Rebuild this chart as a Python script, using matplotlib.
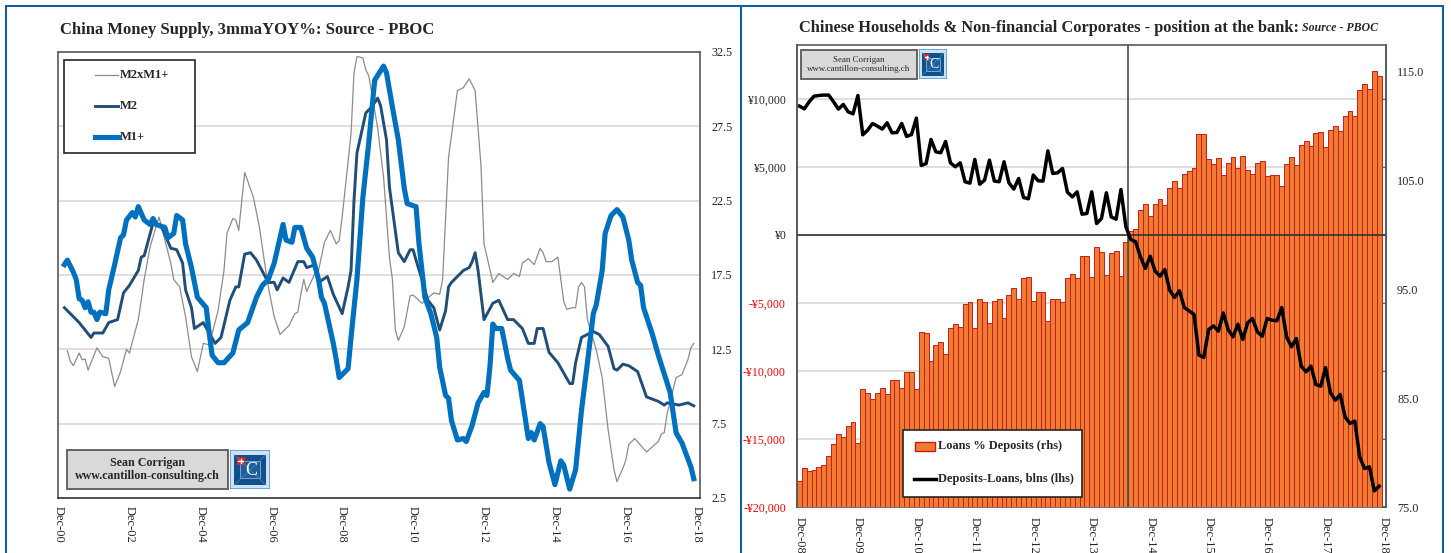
import numpy as np
import matplotlib
matplotlib.use("Agg")
import matplotlib.pyplot as plt
from matplotlib.lines import Line2D
from matplotlib.patches import Rectangle
from matplotlib.transforms import Affine2D

# money supply growth, months counted from Dec-00
m1_months = [2,3,5,6,7,8,9,10,11,12,13,14,16,17,19,21,22,23,25,26,27,29,31,32,33,36,37,39,40,42,43,45,47,50,51,52,54,56,59,61,64,67,69,71,73,76,77,79,80,82,84,86,88,89,90,93,94,95,98,99,101,103,105,107,110,111,113,115,117,118,121,122,123,124,126,128,129,131,132,133,135,137,138,140,142,144,145,146,147,148,150,152,153,156,159,160,161,163,164,166,168,170,171,173,175,177,179,181,182,184,185,187,189,191,193,194,196,197,198,201,203,207,209,211,214,215]
m1_values = [18.2,18.5,17.7,17.2,15.9,15.8,15.3,15.7,15.0,15.0,14.5,15.0,14.9,16.5,18.2,20.0,20.2,21.2,21.7,21.4,22.1,21.2,20.9,21.3,20.9,20.7,20.0,20.3,21.5,21.2,19.6,18.0,16.0,15.3,13.6,12.1,11.6,11.6,12.25,13.8,14.3,16.0,16.8,17.2,18.3,20.9,19.85,19.7,20.7,20.7,19.3,18.7,17.2,16.0,15.6,12.9,11.8,10.6,11.2,13.3,17.2,22.7,26.4,30.6,31.55,31.1,28.8,26.6,23.35,22.3,22.1,19.6,17.8,16.0,14.9,13.3,11.3,9.4,9.2,7.7,6.4,6.5,6.3,7.4,8.9,9.6,9.4,11.3,14.2,13.9,13.9,11.9,11.1,10.4,6.5,6.9,6.4,7.5,7.3,4.9,3.4,5.0,4.7,3.1,4.4,8.4,11.6,14.9,15.5,17.8,20.3,21.5,21.9,21.4,19.85,18.5,17.0,16.8,15.3,13.5,12.1,9.6,6.9,6.2,4.6,3.8]

m2_months = [2,5,7,11,12,15,17,20,22,24,27,28,29,32,35,38,40,42,43,45,46,49,51,53,55,58,60,61,63,65,67,71,73,74,76,78,81,83,84,87,88,91,93,96,98,99,100,101,104,106,108,109,111,112,115,117,119,120,121,123,125,127,129,131,132,133,135,137,139,140,141,142,144,147,149,152,154,157,159,161,162,164,166,169,173,174,175,177,181,183,186,188,189,191,193,196,199,203,205,206,210,213,215]
m2_values = [15.3,14.7,14.3,13.3,13.6,13.6,14.3,14.5,16.3,16.8,17.8,18.7,18.8,21.0,20.7,19.3,19.2,18.3,16.5,15.3,13.9,14.3,13.6,12.9,13.3,15.8,16.7,16.7,18.9,19.0,18.5,17.0,17.0,16.5,17.3,17.0,18.4,18.4,18.0,18.2,17.0,17.4,16.2,14.9,16.7,17.8,22.5,25.7,28.4,28.8,29.4,28.9,26.6,23.4,19.0,18.4,19.2,19.2,18.5,17.2,15.8,15.3,13.8,15.1,16.7,17.0,17.4,17.8,18.0,18.4,19.0,17.8,14.5,15.6,15.8,14.5,14.5,13.9,12.9,12.9,13.9,13.9,12.3,11.6,10.2,10.2,11.6,13.3,13.7,13.5,12.7,11.2,11.1,11.5,11.4,11.0,9.3,9.0,8.75,8.9,8.75,8.9,8.7]

m2xm1_months = [3,4,5,7,8,9,10,13,15,17,19,21,23,24,27,28,29,31,34,36,38,39,41,43,45,47,49,51,54,56,57,59,60,61,63,66,68,70,71,73,75,78,80,81,82,83,84,87,88,90,92,94,95,96,99,100,101,103,104,105,108,110,112,113,114,115,117,119,120,123,127,129,130,132,135,137,139,141,143,144,147,149,152,154,156,157,159,161,163,164,165,167,169,170,171,172,174,175,176,177,178,179,182,184,186,188,189,191,192,193,195,199,203,204,205,206,209,211,213,214,215]
m2xm1_values = [12.4,11.7,11.4,12.25,11.8,11.85,11.1,12.6,12.0,11.9,10.0,11.0,12.5,12.25,14.5,15.8,17.2,19.4,21.4,19.85,18.3,17.2,16.7,14.7,12.0,11.0,12.9,12.8,15.1,17.8,20.3,21.3,21.2,20.5,24.4,22.7,20.7,18.0,16.7,14.7,13.5,14.1,14.9,15.0,16.2,17.2,16.4,17.7,17.8,19.7,20.5,19.6,19.8,21.4,27.0,31.1,32.2,32.1,31.3,30.9,27.4,24.1,18.7,17.2,13.8,13.1,14.0,16.1,16.15,15.6,16.3,16.2,17.2,25.4,29.9,30.1,30.7,29.9,24.8,19.6,17.0,17.6,17.2,17.6,17.4,18.3,18.6,18.2,19.3,19.0,18.4,18.4,18.7,17.2,15.7,15.2,15.3,15.3,16.7,17.0,16.7,14.5,12.45,10.6,7.1,4.4,3.6,4.5,5.05,6.1,6.5,5.6,6.3,6.8,6.9,8.2,10.6,10.8,11.8,12.6,12.9]

money_ticks = [0,24,48,72,96,120,144,168,192,216]
money_labels = ["Dec-00","Dec-02","Dec-04","Dec-06","Dec-08","Dec-10","Dec-12","Dec-14","Dec-16","Dec-18"]
money_levels = [2.5,7.5,12.5,17.5,22.5,27.5,32.5]

# bank position, one value a month from Dec-08
loans_pct = [77.4,78.6,78.3,78.4,78.7,78.9,79.7,80.8,81.7,81.4,82.4,82.8,80.9,85.8,85.5,84.9,85.5,85.9,85.4,86.7,
             86.7,85.9,87.4,87.4,85.8,91.05,91.0,88.4,89.9,90.1,89.0,91.45,91.8,91.5,93.6,93.8,91.45,94.1,93.8,91.85,
             93.9,94.1,92.3,94.45,95.1,94.1,96.0,96.1,93.9,94.7,94.7,92.1,94.1,94.1,93.8,96.0,96.35,96.0,98.0,98.0,
             96.1,98.9,98.4,96.3,98.3,98.5,96.2,99.3,100.35,100.5,102.25,102.8,101.7,102.8,103.3,102.7,104.3,104.9,104.3,105.6,
             105.8,106.1,109.2,109.2,106.9,106.5,107.0,105.5,106.6,107.1,106.1,107.2,105.9,105.55,106.6,106.8,105.4,105.5,105.5,104.5,
             106.5,107.1,106.4,108.2,108.6,108.1,109.3,109.4,108.0,109.6,110.0,109.5,110.9,111.3,110.9,113.3,113.8,113.4,115.0,114.6]
deposits_less_loans = [9460,9260,9780,10190,10240,10270,10270,9780,9240,9580,9040,8890,10240,7350,7690,8180,7990,7770,8230,7500,
                       7520,8180,7230,7370,8580,5100,5240,7010,6100,6030,6860,5290,5000,5290,3900,3800,5540,3720,4020,5490,
                       3950,3900,5370,3820,3360,4140,2740,2650,4390,3970,3950,6170,4510,4560,4880,3140,2790,3160,1520,1570,
                       3160,830,1200,3090,1320,1150,3330,590,-340,-510,-1620,-2470,-1570,-2650,-3040,-2550,-4070,-4600,-4110,-5340,
                       -5590,-5850,-8840,-9010,-6960,-6690,-7080,-5740,-6960,-7500,-6570,-7690,-6470,-6150,-7130,-7450,-6150,-6270,-6320,-5340,
                       -7500,-8230,-7620,-9650,-10070,-9650,-11000,-11120,-9750,-11610,-12150,-11730,-13380,-13860,-13690,-16320,-17170,-17050,-18820,-18470]
bank_ticks = [0,12,24,36,48,60,72,84,96,108,120]
bank_labels = ["Dec-08","Dec-09","Dec-10","Dec-11","Dec-12","Dec-13","Dec-14","Dec-15","Dec-16","Dec-17","Dec-18"]
yuan_levels = [-20000,-15000,-10000,-5000,0,5000,10000]
ratio_levels = [75,85,95,105,115]

W, H = 1451, 553
SERIF = "Liberation Serif"
INK = "#262626"
FRAME = "#0B5FA5"
SPINE = "#595959"
GRID = "#D9D9D9"

plt.rcParams["font.family"] = SERIF
plt.rcParams["lines.solid_joinstyle"] = "round"
fig = plt.figure(figsize=(W / 100, H / 100), dpi=100)
# pixel coordinates with the origin at the top left, for the decoration
px = Affine2D().scale(1, -1).translate(0, H)


def axes_at(left, top, right, bottom):
    return fig.add_axes([left / W, 1 - bottom / H, (right - left) / W, (bottom - top) / H])


def fig_text(x, y, s, **kw):
    kw.setdefault("va", "center")
    kw.setdefault("color", INK)
    return fig.text(x, y, s, transform=px, **kw)


def fig_line(xs, ys, **kw):
    fig.add_artist(Line2D(xs, ys, transform=px, **kw))


def fig_box(x0, y0, x1, y1, **kw):
    fig.add_artist(Rectangle((x0, y0), x1 - x0, y1 - y0, transform=px, **kw))


def credit_box(x0, y0, x1, y1, size, weight):
    fig_box(x0, y0, x1, y1, facecolor="#D9D9D9", edgecolor=SPINE, lw=1.3, zorder=5)
    xc = (x0 + x1) / 2
    fig_text(xc, y0 + (y1 - y0) * 0.33, "Sean Corrigan", ha="center", fontsize=size, fontweight=weight, zorder=6)
    fig_text(xc, y0 + (y1 - y0) * 0.66, "www.cantillon-consulting.ch", ha="center", fontsize=size, fontweight=weight, zorder=6)


def logo(x0, y0, x1, y1, size):
    a = axes_at(x0, y0, x1, y1)
    a.set_xlim(0, 1)
    a.set_ylim(0, 1)
    a.set_zorder(6)
    a.axis("off")
    a.add_patch(Rectangle((0, 0), 1, 1, facecolor="#CFE2F3", edgecolor="#5B9BD5", lw=1.2))
    a.add_patch(Rectangle((0.1, 0.1), 0.8, 0.78, facecolor="#11508F", edgecolor="none"))
    a.plot([0.1, 0.9], [0.1, 0.88], color="#5F8FBF", lw=0.4)
    a.plot([0.1, 0.9], [0.88, 0.1], color="#5F8FBF", lw=0.4)
    a.add_patch(Rectangle((0.25, 0.27), 0.5, 0.44, facecolor="#1B5E9E", edgecolor="#9DC3E6", lw=0.5))
    a.add_patch(Rectangle((0.17, 0.62), 0.2, 0.2, facecolor="#E02020", edgecolor="none"))
    a.plot([0.27, 0.27], [0.66, 0.78], color="white", lw=1)
    a.plot([0.21, 0.33], [0.72, 0.72], color="white", lw=1)
    a.text(0.53, 0.47, "C", color="white", fontsize=size, ha="center", va="center")


for x0, y0, x1, y1 in [(5, 5, 7, 553), (5, 5, 1444, 7), (740, 5, 742, 553), (1442, 5, 1444, 553)]:
    fig_box(x0, y0, x1, y1, facecolor=FRAME, edgecolor="none")

# money supply panel
ax = axes_at(58, 52, 700, 498)
ax.set_xlim(-0.17, 217.1)
ax.set_ylim(2.5, 32.5)
ax.set_yticks(money_levels)
ax.set_yticklabels([f"{v:.1f}" for v in money_levels], fontsize=8.8, color=INK)
ax.yaxis.tick_right()
ax.grid(axis="y", color=GRID, lw=1.2)
ax.set_axisbelow(True)
ax.set_xticks(money_ticks)
ax.set_xticklabels(money_labels, rotation=-90, fontsize=9, color=INK)
ax.tick_params(length=0)
ax.tick_params(axis="x", pad=6)
ax.tick_params(axis="y", pad=8)
for s in ax.spines.values():
    s.set_color(SPINE)
    s.set_linewidth(1.2)
ax.spines["bottom"].set_color("#333333")
ax.plot(m2xm1_months, m2xm1_values, color="#8C8C8C", lw=0.9)
ax.plot(m2_months, m2_values, color="#1F4E79", lw=2.1)
ax.plot(m1_months, m1_values, color="#0070C0", lw=3.7)

fig_text(60, 29.5, "China Money Supply, 3mmaYOY%: Source - PBOC", fontsize=11.95, fontweight="bold")

fig_box(64, 60, 195, 153, facecolor="white", edgecolor="#262626", lw=1.2, zorder=5)
for y, label, colour, width in [(75, "M2xM1+", "#8C8C8C", 0.9), (106, "M2", "#1F4E79", 2.1), (137, "M1+", "#0070C0", 3.7)]:
    fig_line([95, 118], [y, y], color=colour, lw=width, zorder=6)
    fig_text(120, y, label, fontsize=9, fontweight="bold", zorder=6)

credit_box(67, 450, 228, 489, 8.65, "bold")
logo(230, 450, 270, 489, 13)

# bank position panel: grid underneath, bars, then the balance line on top
ax_yuan = axes_at(797, 45, 1386, 507)
bank_xlim = (-0.5, 120.4)
yuan_ylim = (-20000, 13950)
ax_yuan.set_xlim(*bank_xlim)
ax_yuan.set_ylim(*yuan_ylim)
ax_yuan.set_yticks(yuan_levels)
ax_yuan.set_yticklabels([f"¥{v:,}" if v >= 0 else f"-¥{-v:,}" for v in yuan_levels], fontsize=8.6)
for lab, v in zip(ax_yuan.get_yticklabels(), yuan_levels):
    lab.set_color(INK if v >= 0 else "#FF0000")
ax_yuan.grid(axis="y", color=GRID, lw=1.2)
ax_yuan.set_axisbelow(True)
ax_yuan.set_xticks(bank_ticks)
ax_yuan.set_xticklabels(bank_labels, rotation=-90, fontsize=9, color=INK)
ax_yuan.tick_params(axis="x", length=0, pad=7)
ax_yuan.tick_params(axis="y", length=0, pad=8)
for s in ax_yuan.spines.values():
    s.set_color(SPINE)
    s.set_linewidth(1.2)

ax_ratio = ax_yuan.twinx()
ax_ratio.set_xlim(*bank_xlim)
ax_ratio.set_ylim(75, 117.4)
ax_ratio.patch.set_visible(False)
ax_ratio.bar(np.arange(len(loans_pct)), np.array(loans_pct) - 75, bottom=75, width=1.0,
             facecolor="#ED7D31", edgecolor="#D0181C", lw=0.7)
ax_ratio.set_yticks(ratio_levels)
ax_ratio.set_yticklabels([f"{v:.1f}" for v in ratio_levels], fontsize=8.8, color=INK)
ax_ratio.tick_params(axis="y", length=0, pad=8)
for s in ax_ratio.spines.values():
    s.set_visible(False)

ax_line = ax_yuan.twinx()
ax_line.set_xlim(*bank_xlim)
ax_line.set_ylim(*yuan_ylim)
ax_line.patch.set_visible(False)
ax_line.set_yticks(yuan_levels)
ax_line.tick_params(axis="y", direction="in", length=3, color=SPINE, labelright=False)
ax_line.spines["right"].set_color(SPINE)
ax_line.spines["right"].set_linewidth(1.2)
ax_line.spines["top"].set_visible(False)
ax_line.spines["left"].set_color(SPINE)
ax_line.spines["left"].set_linewidth(1.2)
ax_line.spines["bottom"].set_visible(False)
ax_line.axhline(0, color="#333333", lw=1.2)
ax_line.axvline(67.4, color="#4D4D4D", lw=1.2)
ax_line.plot(np.arange(len(deposits_less_loans)), deposits_less_loans, color="black", lw=2.5)

fig_text(799, 27.5, "Chinese Households & Non-financial Corporates - position at the bank:", fontsize=11.75, fontweight="bold")
fig_text(1302, 28, "Source - PBOC", fontsize=8.6, fontweight="bold", fontstyle="italic")

credit_box(801, 50, 917, 79, 6.4, "normal")
logo(919, 49, 947, 79, 10)

fig_box(903, 430, 1082, 497, facecolor="white", edgecolor="#262626", lw=1.2, zorder=5)
fig_box(915, 442, 935, 451, facecolor="#ED7D31", edgecolor="#D0181C", lw=1, zorder=6)
fig_text(938, 446, "Loans % Deposits (rhs)", fontsize=8.9, fontweight="bold", zorder=6)
fig_line([914, 936], [479, 479], color="black", lw=2.5, zorder=6)
fig_text(938, 479, "Deposits-Loans, blns (lhs)", fontsize=8.9, fontweight="bold", zorder=6)

fig.savefig("out.png", dpi=100)
